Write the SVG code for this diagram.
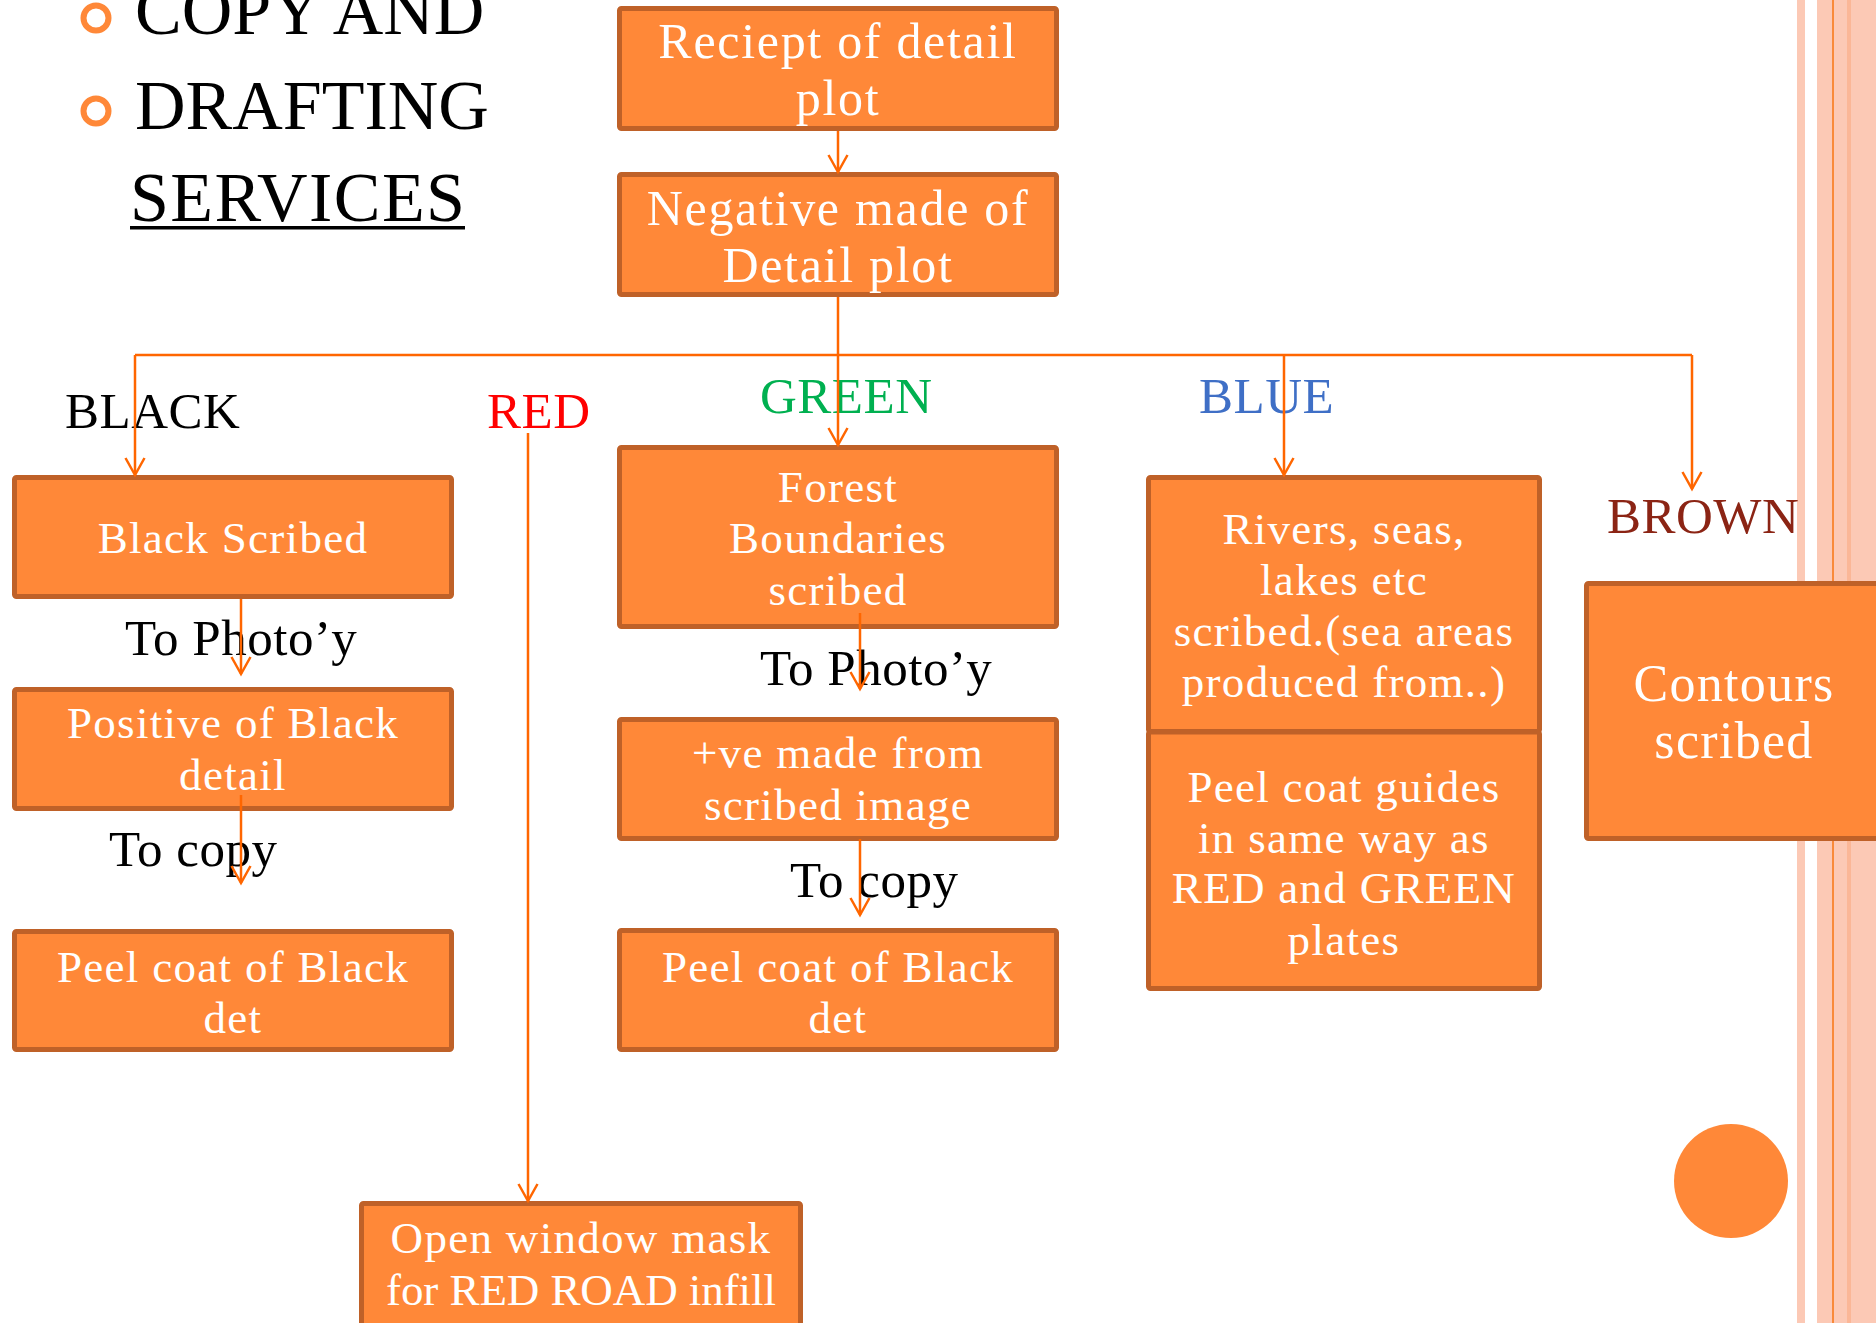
<svg xmlns="http://www.w3.org/2000/svg" width="1876" height="1323" viewBox="0 0 1876 1323">
<style>
.box{fill:#FF8838;stroke:#BF6128;stroke-width:5}
.bt{font-family:"Liberation Serif","Times New Roman",serif;font-size:45px;letter-spacing:1.3px;fill:#FFFFFF;text-anchor:middle}
.bt2{font-family:"Liberation Serif","Times New Roman",serif;font-size:50px;letter-spacing:1.7px;fill:#FFFFFF;text-anchor:middle}
.lbl{font-family:"Liberation Serif","Times New Roman",serif;font-size:51px;letter-spacing:0.5px}
.head{font-family:"Liberation Serif","Times New Roman",serif;font-size:70px;fill:#000}
.con{fill:none;stroke:#FF6600;stroke-width:2.5}
</style>
<defs>
<marker id="arr" viewBox="0 0 24 24" markerWidth="24" markerHeight="24" refX="17" refY="10" orient="auto" markerUnits="userSpaceOnUse" overflow="visible">
<path d="M0,0.5 L17,10 L0,19.5" fill="none" stroke="#FF6600" stroke-width="2.5"/>
</marker>
</defs>
<rect width="1876" height="1323" fill="#FFFFFF"/>
<g id="stripes">
<rect x="1797" y="0" width="8" height="1323" fill="#FCC9B5"/>
<rect x="1817" y="0" width="59" height="1323" fill="#FCC9B5"/>
<rect x="1847" y="0" width="4" height="1323" fill="#FBB797"/>
<rect x="1832" y="0" width="2" height="1323" fill="#F98A3A"/>
</g>
<g id="title">
<circle cx="96" cy="18" r="12.5" fill="none" stroke="#FF8838" stroke-width="6"/>
<circle cx="96" cy="111" r="12.5" fill="none" stroke="#FF8838" stroke-width="6"/>
<text class="head" x="135" y="34">COPY AND</text>
<text class="head" x="135" y="129">DRAFTING</text>
<text class="head" x="130" y="221" textLength="335" lengthAdjust="spacing">SERVICES</text>
<rect x="130" y="226" width="335" height="3.5" fill="#000"/>
</g>
<g id="n-receipt"><rect class="box" x="619.5" y="8.5" width="437" height="120" rx="2"/>
<text class="bt2" x="838" y="58">Reciept of detail</text><text class="bt2" x="838" y="115">plot</text></g>
<g id="n-negative"><rect class="box" x="619.5" y="174.5" width="437" height="120" rx="2"/>
<text class="bt2" x="838" y="225">Negative made of</text><text class="bt2" x="838" y="282">Detail plot</text></g>
<g id="n-blackscribed"><rect class="box" x="14.5" y="477.5" width="437" height="119" rx="2"/>
<text class="bt" x="233" y="553">Black Scribed</text></g>
<g id="n-positive"><rect class="box" x="14.5" y="689.5" width="437" height="119" rx="2"/>
<text class="bt" x="233" y="738">Positive of Black</text><text class="bt" x="233" y="790">detail</text></g>
<g id="n-peel-left"><rect class="box" x="14.5" y="931.5" width="437" height="118" rx="2"/>
<text class="bt" x="233" y="982">Peel coat of Black</text><text class="bt" x="233" y="1033">det</text></g>
<g id="n-forest"><rect class="box" x="619.5" y="447.5" width="437" height="179" rx="2"/>
<text class="bt" x="838" y="502">Forest</text><text class="bt" x="838" y="553">Boundaries</text><text class="bt" x="838" y="605">scribed</text></g>
<g id="n-posve"><rect class="box" x="619.5" y="719.5" width="437" height="119" rx="2"/>
<text class="bt" x="838" y="768">+ve made from</text><text class="bt" x="838" y="820">scribed image</text></g>
<g id="n-peel-center"><rect class="box" x="619.5" y="930.5" width="437" height="119" rx="2"/>
<text class="bt" x="838" y="982">Peel coat of Black</text><text class="bt" x="838" y="1033">det</text></g>
<g id="n-rivers"><rect class="box" x="1148.5" y="477.5" width="391" height="254" rx="2"/>
<text class="bt" x="1344" y="544">Rivers, seas,</text><text class="bt" x="1344" y="595">lakes etc</text><text class="bt" x="1344" y="646">scribed.(sea areas</text><text class="bt" x="1344" y="697">produced from..)</text></g>
<g id="n-peelguides"><rect class="box" x="1148.5" y="732" width="391" height="256.5" rx="2"/>
<text class="bt" x="1344" y="802">Peel coat guides</text><text class="bt" x="1344" y="853">in same way as</text><text class="bt" x="1344" y="903">RED and GREEN</text><text class="bt" x="1344" y="955">plates</text></g>
<g id="n-contours"><rect class="box" x="1586.5" y="583.5" width="300" height="255" rx="2"/>
<text class="bt" style="font-size:52px" x="1734" y="701">Contours</text><text class="bt" style="font-size:52px" x="1734" y="758">scribed</text></g>
<g id="n-openwindow"><rect class="box" x="361.5" y="1203.5" width="439" height="140" rx="2"/>
<text class="bt" x="581" y="1253">Open window mask</text><text class="bt" style="letter-spacing:0" x="581" y="1305" textLength="390" lengthAdjust="spacing">for RED ROAD infill</text></g>
<g id="labels">
<text class="lbl" x="65" y="428" fill="#000000">BLACK</text>
<text class="lbl" x="487" y="428" fill="#FF0000">RED</text>
<text class="lbl" x="760" y="413" fill="#00B050">GREEN</text>
<text class="lbl" x="1199" y="413" fill="#3F6FC6">BLUE</text>
<text class="lbl" x="1607" y="533" fill="#8B2414">BROWN</text>
<text class="lbl" x="125" y="655" fill="#000000">To Photo’y</text>
<text class="lbl" x="109" y="866" fill="#000000">To copy</text>
<text class="lbl" x="760" y="685" fill="#000000">To Photo’y</text>
<text class="lbl" x="790" y="897" fill="#000000">To copy</text>
</g>
<g id="dot"><circle cx="1731" cy="1181" r="57" fill="#FF8838"/></g>
<g id="connectors">
<line class="con" x1="838" y1="131" x2="838" y2="172" marker-end="url(#arr)"/>
<line class="con" x1="838" y1="297" x2="838" y2="445" marker-end="url(#arr)"/>
<line class="con" x1="135" y1="355" x2="1692" y2="355"/>
<line class="con" x1="135" y1="355" x2="135" y2="475" marker-end="url(#arr)"/>
<line class="con" x1="1284" y1="355" x2="1284" y2="475" marker-end="url(#arr)"/>
<line class="con" x1="1692" y1="355" x2="1692" y2="489" marker-end="url(#arr)"/>
<line class="con" x1="528" y1="433" x2="528" y2="1201" marker-end="url(#arr)"/>
<line class="con" x1="241" y1="599" x2="241" y2="674" marker-end="url(#arr)"/>
<line class="con" x1="241" y1="795" x2="241" y2="883" marker-end="url(#arr)"/>
<line class="con" x1="860" y1="613" x2="860" y2="689" marker-end="url(#arr)"/>
<line class="con" x1="860" y1="839" x2="860" y2="915" marker-end="url(#arr)"/>
</g>
</svg>
